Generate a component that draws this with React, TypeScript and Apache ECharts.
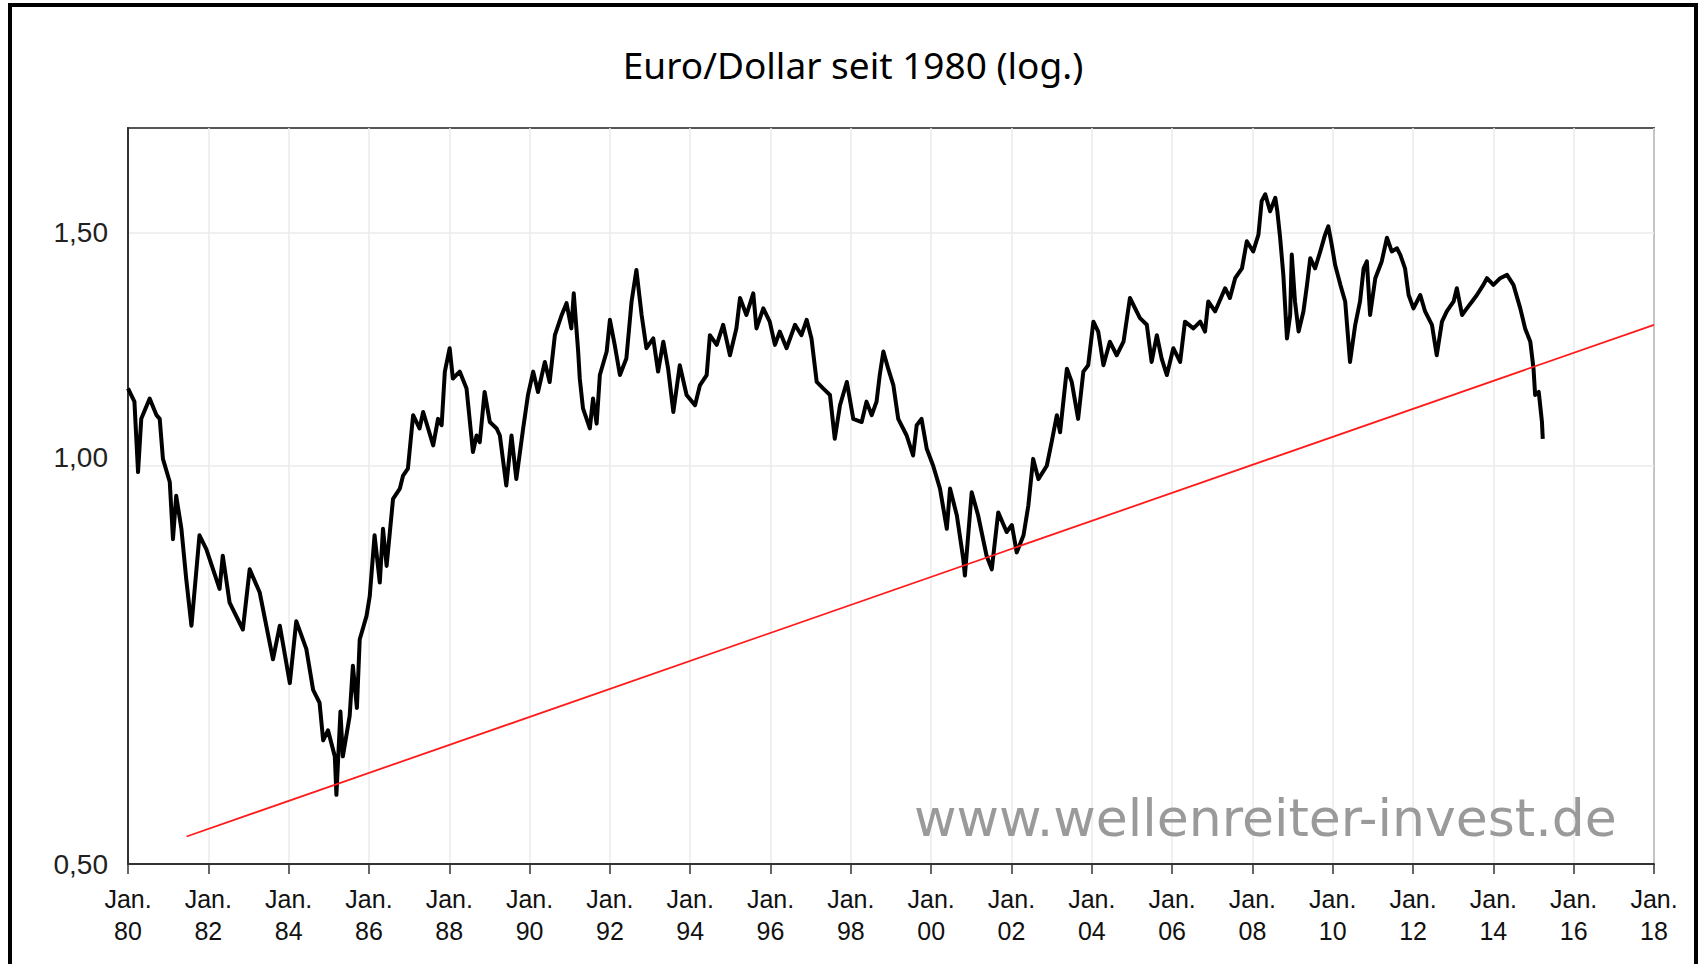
import React, { useEffect, useRef } from 'react';
import * as echarts from 'echarts';

const TITLE = 'Euro/Dollar seit 1980 (log.)';
const WATERMARK = 'www.wellenreiter-invest.de';
const X_MIN = 1980;
const X_MAX = 2018;
const X_STEP = 2;
const Y_MIN = 0.5;
const Y_MAX = 1.8;
const Y_TICKS = [0.5, 1.0, 1.5];

// [decimal year, EUR/USD]
const eurusd1980s: [number, number][] = [
  [1980.0, 1.144], [1980.16, 1.118], [1980.25, 0.989], [1980.33, 1.085], [1980.54, 1.124],
  [1980.71, 1.092], [1980.79, 1.085], [1980.87, 1.012], [1981.04, 0.972], [1981.12, 0.88],
  [1981.2, 0.949], [1981.33, 0.896], [1981.45, 0.821], [1981.58, 0.757], [1981.78, 0.886],
  [1981.95, 0.865], [1982.28, 0.807], [1982.36, 0.855], [1982.53, 0.788], [1982.86, 0.752],
  [1983.03, 0.835], [1983.28, 0.802], [1983.61, 0.714], [1983.78, 0.757], [1984.03, 0.685],
  [1984.19, 0.763], [1984.44, 0.727], [1984.61, 0.677], [1984.77, 0.662], [1984.86, 0.62],
  [1984.98, 0.631], [1985.15, 0.603], [1985.19, 0.564], [1985.29, 0.652], [1985.35, 0.603],
  [1985.52, 0.647], [1985.6, 0.706], [1985.7, 0.656], [1985.77, 0.739], [1985.94, 0.77],
  [1986.02, 0.797], [1986.14, 0.886], [1986.27, 0.816], [1986.35, 0.896], [1986.44, 0.84],
  [1986.6, 0.944], [1986.77, 0.961], [1986.85, 0.983], [1986.97, 0.995], [1987.1, 1.092],
  [1987.26, 1.067], [1987.35, 1.098], [1987.6, 1.036], [1987.72, 1.085], [1987.81, 1.073],
  [1987.89, 1.178], [1988.01, 1.227], [1988.09, 1.164], [1988.26, 1.178], [1988.43, 1.144],
  [1988.59, 1.024], [1988.68, 1.054], [1988.76, 1.042], [1988.88, 1.137], [1989.01, 1.079],
  [1989.18, 1.067], [1989.26, 1.054], [1989.42, 0.966], [1989.55, 1.054], [1989.67, 0.977],
  [1989.84, 1.067], [1989.96, 1.131],
];

const eurusd1990s: [number, number][] = [
  [1990.09, 1.178], [1990.21, 1.137], [1990.38, 1.198], [1990.5, 1.157], [1990.63, 1.255],
  [1990.8, 1.3], [1990.92, 1.327], [1991.04, 1.27], [1991.1, 1.35], [1991.21, 1.22],
  [1991.25, 1.164], [1991.33, 1.105], [1991.5, 1.067], [1991.58, 1.124], [1991.67, 1.076],
  [1991.75, 1.171], [1991.92, 1.22], [1992.0, 1.289], [1992.12, 1.234], [1992.25, 1.171],
  [1992.41, 1.205], [1992.54, 1.331], [1992.66, 1.406], [1992.79, 1.3], [1992.91, 1.227],
  [1993.08, 1.248], [1993.2, 1.178], [1993.33, 1.241], [1993.45, 1.184], [1993.58, 1.098],
  [1993.74, 1.191], [1993.91, 1.131], [1994.12, 1.111], [1994.24, 1.15], [1994.41, 1.171],
  [1994.49, 1.255], [1994.66, 1.234], [1994.82, 1.278], [1994.99, 1.212], [1995.15, 1.27],
  [1995.24, 1.339], [1995.4, 1.3], [1995.57, 1.35], [1995.65, 1.27], [1995.82, 1.315],
  [1995.98, 1.285], [1996.11, 1.234], [1996.23, 1.263], [1996.4, 1.227], [1996.61, 1.278],
  [1996.77, 1.255], [1996.9, 1.289], [1997.02, 1.248], [1997.15, 1.157], [1997.31, 1.144],
  [1997.48, 1.131], [1997.6, 1.048], [1997.73, 1.111], [1997.9, 1.157], [1998.06, 1.085],
  [1998.27, 1.079], [1998.39, 1.118], [1998.52, 1.092], [1998.64, 1.118], [1998.72, 1.171],
  [1998.81, 1.22], [1998.93, 1.184], [1999.06, 1.15], [1999.18, 1.085], [1999.39, 1.054],
  [1999.55, 1.018], [1999.64, 1.073], [1999.76, 1.085], [1999.89, 1.03],
];

const eurusd2000s: [number, number][] = [
  [2000.05, 1.0], [2000.22, 0.961], [2000.39, 0.896], [2000.47, 0.961], [2000.64, 0.917],
  [2000.8, 0.85], [2000.84, 0.826], [2001.01, 0.955], [2001.17, 0.917], [2001.38, 0.855],
  [2001.51, 0.835], [2001.67, 0.922], [2001.88, 0.891], [2002.01, 0.902], [2002.13, 0.86],
  [2002.3, 0.886], [2002.42, 0.933], [2002.54, 1.012], [2002.67, 0.977], [2002.88, 1.0],
  [2003.0, 1.042], [2003.13, 1.092], [2003.21, 1.06], [2003.38, 1.184], [2003.5, 1.157],
  [2003.66, 1.085], [2003.79, 1.178], [2003.91, 1.191], [2004.04, 1.285], [2004.16, 1.263],
  [2004.29, 1.191], [2004.45, 1.241], [2004.62, 1.212], [2004.79, 1.241], [2004.95, 1.339],
  [2005.2, 1.293], [2005.37, 1.278], [2005.49, 1.198], [2005.62, 1.255], [2005.74, 1.205],
  [2005.87, 1.171], [2006.03, 1.227], [2006.2, 1.198], [2006.32, 1.285], [2006.53, 1.27],
  [2006.7, 1.285], [2006.82, 1.263], [2006.9, 1.331], [2007.07, 1.308], [2007.32, 1.362],
  [2007.44, 1.339], [2007.57, 1.386], [2007.74, 1.41], [2007.86, 1.478], [2008.02, 1.452],
  [2008.15, 1.495], [2008.23, 1.585], [2008.32, 1.604], [2008.44, 1.557], [2008.57, 1.594],
  [2008.62, 1.557], [2008.69, 1.487], [2008.77, 1.394], [2008.86, 1.248], [2008.94, 1.3],
  [2008.98, 1.444], [2009.06, 1.331], [2009.15, 1.263], [2009.27, 1.308], [2009.36, 1.37],
  [2009.44, 1.435], [2009.56, 1.41], [2009.69, 1.452], [2009.81, 1.495], [2009.89, 1.517],
  [2009.98, 1.466],
];

const eurusd2010s: [number, number][] = [
  [2010.06, 1.418], [2010.19, 1.37], [2010.31, 1.331], [2010.43, 1.198], [2010.56, 1.278],
  [2010.68, 1.331], [2010.77, 1.41], [2010.85, 1.427], [2010.93, 1.3], [2011.06, 1.386],
  [2011.22, 1.427], [2011.35, 1.487], [2011.47, 1.452], [2011.6, 1.46], [2011.68, 1.444],
  [2011.8, 1.41], [2011.89, 1.346], [2012.01, 1.315], [2012.18, 1.346], [2012.3, 1.308],
  [2012.47, 1.278], [2012.59, 1.212], [2012.72, 1.285], [2012.84, 1.308], [2013.01, 1.331],
  [2013.09, 1.362], [2013.22, 1.3], [2013.34, 1.315], [2013.47, 1.331], [2013.59, 1.346],
  [2013.75, 1.37], [2013.84, 1.386], [2014.0, 1.37], [2014.17, 1.386], [2014.34, 1.394],
  [2014.5, 1.37], [2014.67, 1.315], [2014.79, 1.27], [2014.92, 1.241], [2015.0, 1.184],
  [2015.04, 1.131], [2015.13, 1.137], [2015.21, 1.079], [2015.23, 1.048],
];

// red support line (start / end)
const trendLine: [number, number][] = [
  [1981.46, 0.5245],
  [2018.0, 1.278],
];

const FONT_AXIS = "'Liberation Sans', Arial, sans-serif";

export default function App() {
  const ref = useRef<HTMLDivElement>(null);

  useEffect(() => {
    if (!ref.current) return;
    const chart = echarts.init(ref.current, undefined, { renderer: 'svg' });
    const rates = [...eurusd1980s, ...eurusd1990s, ...eurusd2000s, ...eurusd2010s];

    chart.setOption({
      animation: false,
      backgroundColor: '#ffffff',
      title: {
        text: TITLE,
        left: 'center',
        top: 41,
        textStyle: {
          fontFamily: "'Noto Sans', sans-serif",
          fontSize: 37,
          fontWeight: 'normal',
          color: '#000000',
        },
      },
      grid: {
        left: 128,
        right: 52,
        top: 128,
        bottom: 100,
        show: true,
        borderColor: '#555555',
        borderWidth: 2,
        backgroundColor: 'transparent',
      },
      xAxis: {
        type: 'value',
        min: X_MIN,
        max: X_MAX,
        interval: X_STEP,
        axisLine: { show: true, onZero: false, lineStyle: { color: '#333333', width: 2 } },
        axisTick: { show: true, inside: false, length: 10, lineStyle: { color: '#333333', width: 1.5 } },
        axisLabel: {
          showMinLabel: true,
          showMaxLabel: true,
          margin: 19,
          fontFamily: FONT_AXIS,
          fontSize: 25,
          lineHeight: 32,
          color: '#111111',
          formatter: (v: number) => 'Jan.\n' + String(Math.round(v) % 100).padStart(2, '0'),
        },
        splitLine: { show: true, lineStyle: { color: '#ebebeb', width: 1.5 } },
      },
      yAxis: {
        type: 'log',
        logBase: 10,
        min: Y_MIN,
        max: Y_MAX,
        axisLine: { show: true, lineStyle: { color: '#333333', width: 2 } },
        axisTick: { show: false, customValues: Y_TICKS },
        axisLabel: {
          customValues: Y_TICKS,
          margin: 20,
          fontFamily: FONT_AXIS,
          fontSize: 28,
          color: '#222222',
          formatter: (v: number) => {
            const s = v.toFixed(2).replace('.', ',');
            return Math.abs(v - 1) < 1e-9 ? '{up|' + s + '}' : s;
          },
          rich: {
            up: {
              fontFamily: FONT_AXIS,
              fontSize: 28,
              color: '#222222',
              padding: [0, 0, 16, 0],
            },
          },
        },
        splitLine: { show: true, lineStyle: { color: '#ebebeb', width: 1.5 } },
      },
      graphic: [
        {
          type: 'text',
          left: 914,
          top: 792,
          z: 5,
          style: {
            text: WATERMARK,
            fontFamily: "'DejaVu Sans', sans-serif",
            fontSize: 52,
            fill: '#9a9a9a',
          },
        },
        {
          type: 'rect',
          shape: { x: 10, y: 5, width: 1686, height: 1000 },
          style: { fill: 'none', stroke: '#000000', lineWidth: 4 },
          z: 10,
        },
      ],
      series: [
        {
          name: 'Euro/Dollar',
          type: 'line',
          data: rates,
          showSymbol: false,
          symbol: 'none',
          lineStyle: { color: '#000000', width: 4, join: 'round' },
          z: 3,
        },
        {
          name: 'Trend',
          type: 'line',
          data: trendLine,
          showSymbol: false,
          symbol: 'none',
          lineStyle: { color: '#ff1a1a', width: 1.8 },
          z: 4,
        },
      ],
    });

    return () => chart.dispose();
  }, []);

  return (
    <div
      ref={ref}
      style={{ position: 'absolute', left: 0, top: 0, width: 1706, height: 964 }}
    />
  );
}
